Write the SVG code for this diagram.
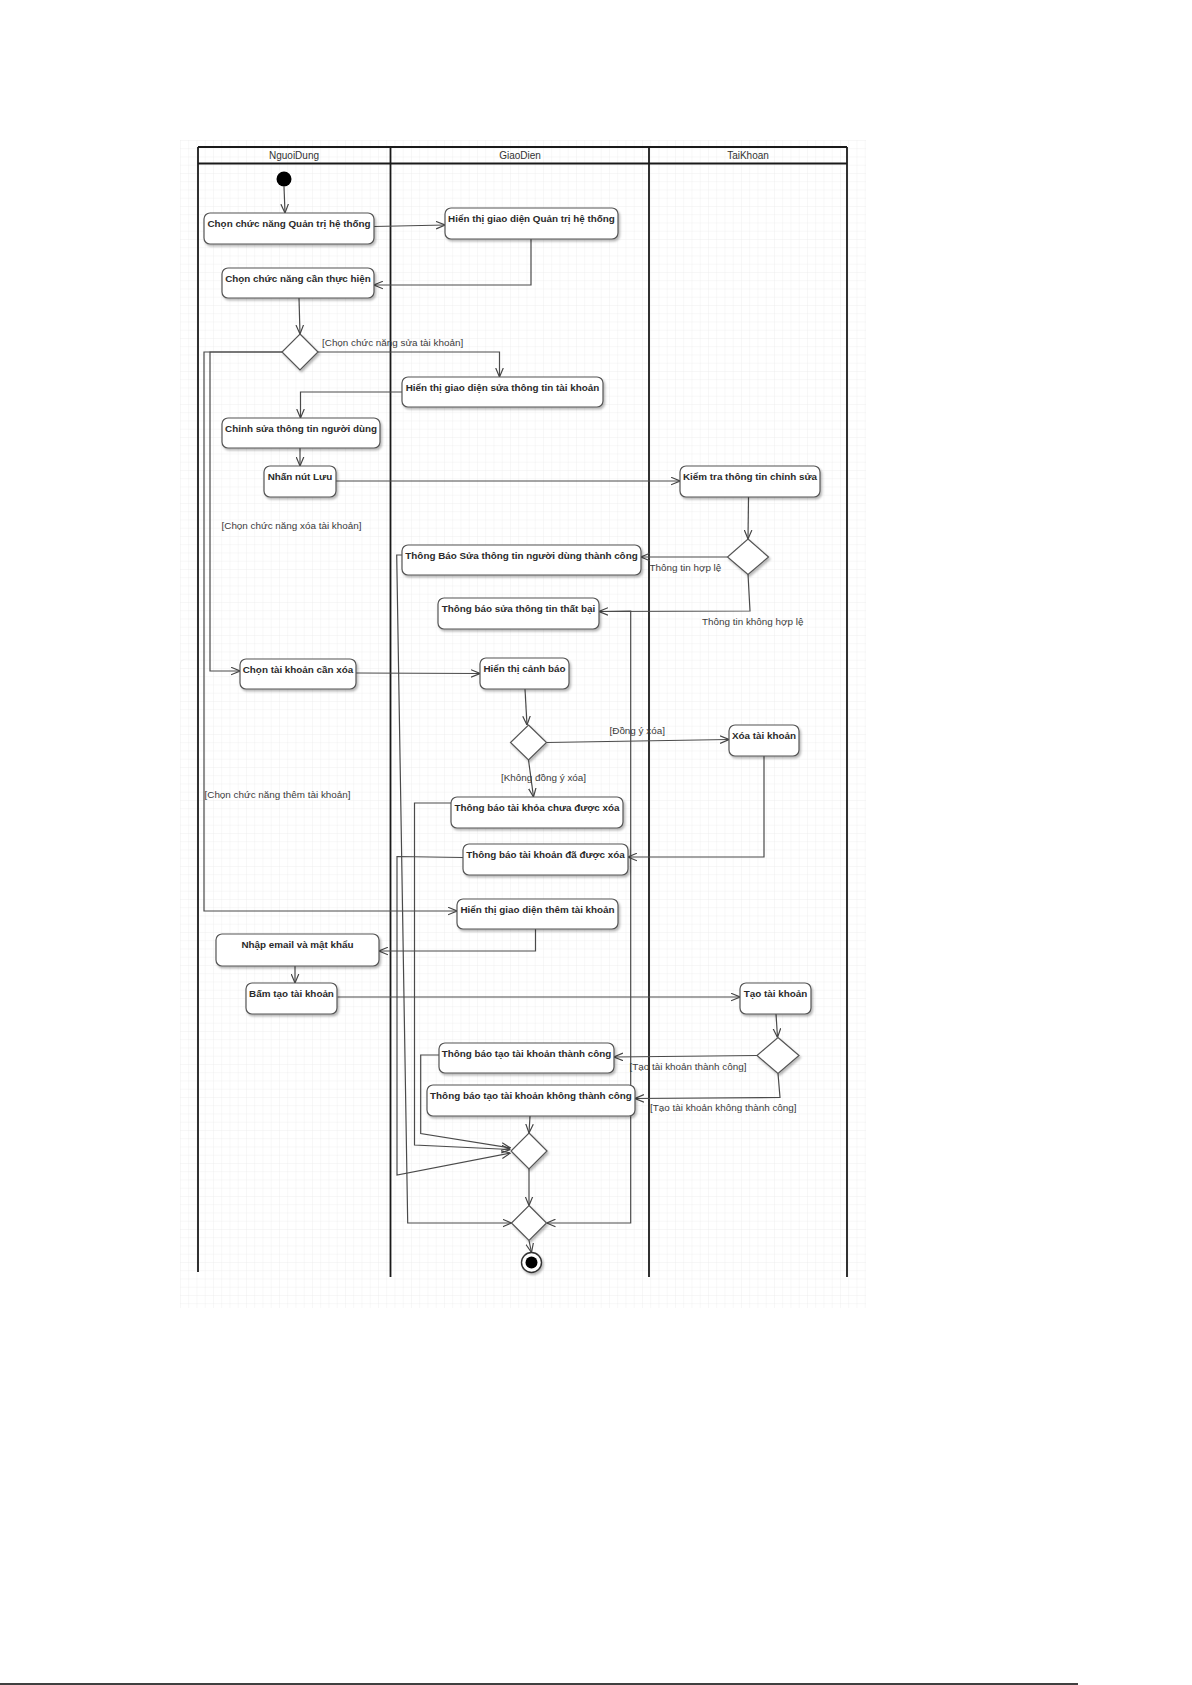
<svg xmlns="http://www.w3.org/2000/svg" width="1192" height="1685" viewBox="0 0 1192 1685">
<style>
.lane{stroke:#1a1a1a;stroke-width:1.8;fill:none}
.hdr{font-family:"Liberation Sans",Arial,sans-serif;font-size:10px;fill:#333;text-anchor:middle}
.node rect{fill:#fff;stroke:#555;stroke-width:1.2}
.node polygon{fill:#fff;stroke:#555;stroke-width:1.2}
.node text{font-family:"Liberation Sans",Arial,sans-serif;font-size:9.85px;font-weight:bold;fill:#2a2a2a;text-anchor:middle}
.conn path{fill:none;stroke:#4a4a4a;stroke-width:1.2;marker-end:url(#arr)}
.lbl{font-family:"Liberation Sans",Arial,sans-serif;font-size:9.9px;fill:#3a3a3a}
</style>
<defs>
<pattern id="grid" x="180" y="140" width="8.25" height="8.25" patternUnits="userSpaceOnUse">
<path d="M8.25,0 L0,0 L0,8.25" fill="none" stroke="#e8e8e8" stroke-width="0.7"/>
</pattern>
<filter id="sh" x="-10%" y="-20%" width="130%" height="160%">
<feDropShadow dx="1.5" dy="2" stdDeviation="1.2" flood-color="#000" flood-opacity="0.28"/>
</filter>
<marker id="arr" viewBox="0 0 10 10" refX="10" refY="5" markerWidth="9" markerHeight="9" orient="auto" markerUnits="userSpaceOnUse">
<path d="M0,0.8 L10,5 L0,9.2" fill="none" stroke="#444" stroke-width="1.3"/>
</marker>
</defs>
<rect width="1192" height="1685" fill="#fff"/>
<rect x="180" y="140" width="686" height="1168" fill="url(#grid)"/>

<g id="lanes">
<line class="lane" x1="198" y1="147" x2="847" y2="147"/>
<line class="lane" x1="198" y1="163.5" x2="847" y2="163.5"/>
<line class="lane" x1="198" y1="147" x2="198" y2="1272"/>
<line class="lane" x1="390.5" y1="147" x2="390.5" y2="1277"/>
<line class="lane" x1="649" y1="147" x2="649" y2="1277"/>
<line class="lane" x1="847" y1="147" x2="847" y2="1277"/>
<text class="hdr" x="294" y="159">NguoiDung</text>
<text class="hdr" x="520" y="159">GiaoDien</text>
<text class="hdr" x="748" y="159">TaiKhoan</text>
</g>

<g class="conn" id="connectors">
<path d="M284,186.5 L285,213"/>
<path d="M374,226.5 L445,225"/>
<path d="M531,239 L531,285 L374,285"/>
<path d="M299,298 L300,334"/>
<path d="M318,352 L499.5,352 L499.5,377"/>
<path d="M282,352 L210,352 L210,671 L240,671"/>
<path d="M282,352 L204,352 L204,911 L457,911"/>
<path d="M402,392 L300.5,392 L300.5,418"/>
<path d="M300,448 L300,466"/>
<path d="M336,481 L680,481"/>
<path d="M748.5,497 L748,539"/>
<path d="M727.5,557 L641,557"/>
<path d="M748,574 L750,611 L599,611.5"/>
<path d="M356,673 L480,673.5"/>
<path d="M525,689 L527,725"/>
<path d="M546.5,742.5 L729,739.5"/>
<path d="M528.5,760 L533.5,797"/>
<path d="M764,756 L764,857 L628,857"/>
<path d="M535.5,929 L535.5,951 L379,951"/>
<path d="M295,966 L295,983"/>
<path d="M337.5,997 L740,997"/>
<path d="M776,1014 L777.5,1037.5"/>
<path d="M757,1055.5 L614,1057"/>
<path d="M778,1073.5 L780,1097.5 L635,1098.5"/>
<path d="M530,1116 L529,1133"/>
<path d="M439,1055 L420.7,1055 L420.7,1133.5 L510.5,1148"/>
<path d="M451,803 L414.5,803 L414.5,1145 L510.5,1149.5"/>
<path d="M463,857.5 L397,856.5 L397,1175 L510.5,1153"/>
<path d="M402,555 L396.7,555 L407.7,1223 L511.5,1223"/>
<path d="M599,611.5 L630.7,611 L630.7,1223 L546.5,1223"/>
<path d="M529,1169 L529,1205.5"/>
<path d="M529,1240.5 L531.5,1252.5"/>
</g>

<g id="labels">
<text class="lbl" x="322" y="346">[Chọn chức năng sửa tài khoản]</text>
<text class="lbl" x="221.5" y="529">[Chọn chức năng xóa tài khoản]</text>
<text class="lbl" x="204.5" y="798">[Chọn chức năng thêm tài khoản]</text>
<text class="lbl" x="649.5" y="570.5">Thông tin hợp lệ</text>
<text class="lbl" x="702" y="624.5">Thông tin không hợp lệ</text>
<text class="lbl" x="609.5" y="734">[Đồng ý xóa]</text>
<text class="lbl" x="501" y="781">[Không đồng ý xóa]</text>
<text class="lbl" x="629.5" y="1069.5">[Tạo tài khoản thành công]</text>
<text class="lbl" x="650" y="1111">[Tạo tài khoản không thành công]</text>
</g>

<g id="start"><circle cx="284" cy="179" r="7.5" fill="#000"/></g>

<g class="node" id="n1"><rect x="204" y="213" width="170" height="31" rx="6" filter="url(#sh)"/><text x="289" y="226.5">Chọn chức năng Quản trị hệ thống</text></g>
<g class="node" id="n2"><rect x="445" y="208" width="173" height="31" rx="6" filter="url(#sh)"/><text x="531.5" y="221.5">Hiển thị giao diện Quản trị hệ thống</text></g>
<g class="node" id="n3"><rect x="222" y="268" width="152" height="30" rx="6" filter="url(#sh)"/><text x="298" y="281.5">Chọn chức năng cần thực hiện</text></g>
<g class="node" id="d1"><polygon points="300,334 318,352 300,370 282,352" filter="url(#sh)"/></g>
<g class="node" id="n4"><rect x="402" y="377" width="201" height="30" rx="6" filter="url(#sh)"/><text x="502.5" y="390.5">Hiển thị giao diện sửa thông tin tài khoản</text></g>
<g class="node" id="n5"><rect x="222" y="418" width="158" height="30" rx="6" filter="url(#sh)"/><text x="301" y="431.5">Chỉnh sửa thông tin người dùng</text></g>
<g class="node" id="n6"><rect x="264" y="466" width="72" height="31" rx="6" filter="url(#sh)"/><text x="300" y="479.5">Nhấn nút Lưu</text></g>
<g class="node" id="n7"><rect x="680" y="466" width="140" height="31" rx="6" filter="url(#sh)"/><text x="750" y="479.5">Kiểm tra thông tin chỉnh sửa</text></g>
<g class="node" id="d2"><polygon points="748,539 768.5,557 748,574.5 727.5,557" filter="url(#sh)"/></g>
<g class="node" id="n8"><rect x="402" y="545" width="239" height="30" rx="6" filter="url(#sh)"/><text x="521.5" y="558.5">Thông Báo Sửa thông tin người dùng thành công</text></g>
<g class="node" id="n9"><rect x="438" y="598" width="161" height="31" rx="6" filter="url(#sh)"/><text x="518.5" y="611.5">Thông báo sửa thông tin thất bại</text></g>
<g class="node" id="n10"><rect x="240" y="659" width="116" height="30" rx="6" filter="url(#sh)"/><text x="298" y="672.5">Chọn tài khoản cần xóa</text></g>
<g class="node" id="n11"><rect x="480" y="658" width="89" height="31" rx="6" filter="url(#sh)"/><text x="524.5" y="671.5">Hiển thị cảnh báo</text></g>
<g class="node" id="d3"><polygon points="528.5,725 546.5,742.5 528.5,760 510.5,742.5" filter="url(#sh)"/></g>
<g class="node" id="n12"><rect x="729" y="725" width="70" height="31" rx="6" filter="url(#sh)"/><text x="764" y="738.5">Xóa tài khoản</text></g>
<g class="node" id="n13"><rect x="451" y="797" width="172" height="31" rx="6" filter="url(#sh)"/><text x="537" y="810.5">Thông báo tài khỏa chưa được xóa</text></g>
<g class="node" id="n14"><rect x="463" y="844" width="165" height="31" rx="6" filter="url(#sh)"/><text x="545.5" y="857.5">Thông báo tài khoản đã được xóa</text></g>
<g class="node" id="n15"><rect x="457" y="899" width="161" height="30" rx="6" filter="url(#sh)"/><text x="537.5" y="912.5">Hiển thị giao diện thêm tài khoản</text></g>
<g class="node" id="n16"><rect x="216" y="934" width="163" height="32" rx="6" filter="url(#sh)"/><text x="297.5" y="947.5">Nhập email và mật khẩu</text></g>
<g class="node" id="n17"><rect x="246" y="983" width="91" height="31" rx="6" filter="url(#sh)"/><text x="291.5" y="996.5">Bấm tạo tài khoản</text></g>
<g class="node" id="n18"><rect x="740" y="983" width="71" height="31" rx="6" filter="url(#sh)"/><text x="775.5" y="996.5">Tạo tài khoản</text></g>
<g class="node" id="d4"><polygon points="778,1037.5 799,1055.5 778,1073.5 757,1055.5" filter="url(#sh)"/></g>
<g class="node" id="n19"><rect x="439" y="1043" width="175" height="30" rx="6" filter="url(#sh)"/><text x="526.5" y="1056.5">Thông báo tạo tài khoản thành công</text></g>
<g class="node" id="n20"><rect x="427" y="1085" width="208" height="31" rx="6" filter="url(#sh)"/><text x="531" y="1098.5">Thông báo tạo tài khoản không thành công</text></g>
<g class="node" id="d5"><polygon points="529,1133 547,1151 529,1169 511,1151" filter="url(#sh)"/></g>
<g class="node" id="d6"><polygon points="529,1205.5 546.5,1223 529,1240.5 511.5,1223" filter="url(#sh)"/></g>
<g id="end"><circle cx="531.5" cy="1262.5" r="10" fill="#fff" stroke="#333" stroke-width="1.4" filter="url(#sh)"/><circle cx="531.5" cy="1262.5" r="6" fill="#000"/></g>

<g id="page"><line x1="0" y1="1684" x2="1078" y2="1684" stroke="#000" stroke-width="1.5"/></g>
</svg>
